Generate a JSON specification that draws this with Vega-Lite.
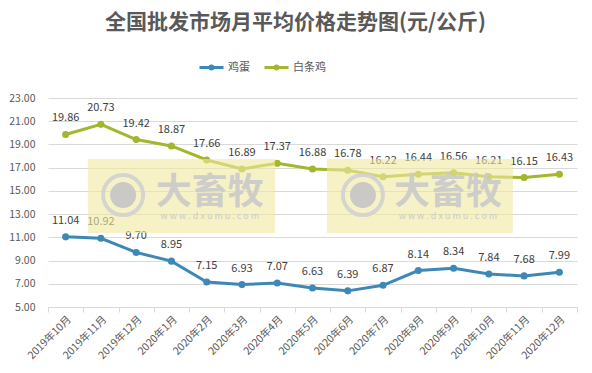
{
  "$schema": "https://vega.github.io/schema/vega-lite/v6.json",
  "width": 529,
  "height": 209,
  "autosize": {"type": "none"},
  "padding": {"left": 48, "top": 98, "right": 15, "bottom": 66},
  "background": "white",
  "config": {"font": "Noto Sans CJK SC", "view": {"stroke": null}},
  "title": {"text": "全国批发市场月平均价格走势图(元/公斤)", "fontSize": 21, "fontWeight": "bold", "color": "#595959", "anchor": "middle", "offset": 21, "dx": -17},
  "datasets": {
    "prices": [
      {"month": "2019年10月", "series": "鸡蛋", "value": 11.04},
      {"month": "2019年11月", "series": "鸡蛋", "value": 10.92},
      {"month": "2019年12月", "series": "鸡蛋", "value": 9.70},
      {"month": "2020年1月", "series": "鸡蛋", "value": 8.95},
      {"month": "2020年2月", "series": "鸡蛋", "value": 7.15},
      {"month": "2020年3月", "series": "鸡蛋", "value": 6.93},
      {"month": "2020年4月", "series": "鸡蛋", "value": 7.07},
      {"month": "2020年5月", "series": "鸡蛋", "value": 6.63},
      {"month": "2020年6月", "series": "鸡蛋", "value": 6.39},
      {"month": "2020年7月", "series": "鸡蛋", "value": 6.87},
      {"month": "2020年8月", "series": "鸡蛋", "value": 8.14},
      {"month": "2020年9月", "series": "鸡蛋", "value": 8.34},
      {"month": "2020年10月", "series": "鸡蛋", "value": 7.84},
      {"month": "2020年11月", "series": "鸡蛋", "value": 7.68},
      {"month": "2020年12月", "series": "鸡蛋", "value": 7.99},
      {"month": "2019年10月", "series": "白条鸡", "value": 19.86},
      {"month": "2019年11月", "series": "白条鸡", "value": 20.73},
      {"month": "2019年12月", "series": "白条鸡", "value": 19.42},
      {"month": "2020年1月", "series": "白条鸡", "value": 18.87},
      {"month": "2020年2月", "series": "白条鸡", "value": 17.66},
      {"month": "2020年3月", "series": "白条鸡", "value": 16.89},
      {"month": "2020年4月", "series": "白条鸡", "value": 17.37},
      {"month": "2020年5月", "series": "白条鸡", "value": 16.88},
      {"month": "2020年6月", "series": "白条鸡", "value": 16.78},
      {"month": "2020年7月", "series": "白条鸡", "value": 16.22},
      {"month": "2020年8月", "series": "白条鸡", "value": 16.44},
      {"month": "2020年9月", "series": "白条鸡", "value": 16.56},
      {"month": "2020年10月", "series": "白条鸡", "value": 16.21},
      {"month": "2020年11月", "series": "白条鸡", "value": 16.15},
      {"month": "2020年12月", "series": "白条鸡", "value": 16.43}
    ],
    "wm": [
      {"x0": 1.13, "x1": 6.44, "y0": 11.37, "y1": 17.75, "cx": 2.13, "cy": 14.64, "tx": 4.59, "ty": 14.82, "uy": 12.84, "label": "大畜牧", "url": "w w w . d x u m u . c o m"},
      {"x0": 7.91, "x1": 13.18, "y0": 11.37, "y1": 17.75, "cx": 8.93, "cy": 14.64, "tx": 11.34, "ty": 14.82, "uy": 12.84, "label": "大畜牧", "url": "w w w . d x u m u . c o m"}
    ]
  },
  "layer": [
    {
      "data": {"name": "prices"},
      "layer": [
        {
          "mark": {"type": "line", "strokeWidth": 3, "point": {"filled": true, "size": 50}},
          "encoding": {
            "x": {"field": "month", "type": "nominal", "sort": null, "axis": {"title": null, "labelAngle": -45, "labelFontSize": 10.5, "labelColor": "#595959", "tickBand": "extent", "domainColor": "#d9d9d9", "tickColor": "#d9d9d9", "grid": false, "tickSize": 5, "labelPadding": 2}},
            "y": {"field": "value", "type": "quantitative", "scale": {"domain": [5, 23], "nice": false}, "axis": {"title": null, "values": [5, 7, 9, 11, 13, 15, 17, 19, 21, 23], "tickCount": 10, "format": ".2f", "labelFontSize": 10.5, "labelColor": "#595959", "labelOverlap": false, "domain": false, "ticks": false, "gridColor": "#d9d9d9", "labelPadding": 13}},
            "color": {"field": "series", "type": "nominal", "scale": {"domain": ["鸡蛋", "白条鸡"], "range": ["#3d88b6", "#a3b62c"]}, "legend": {"orient": "none", "legendX": 150, "legendY": -44, "direction": "horizontal", "title": null, "labelFontSize": 11, "labelColor": "#595959", "symbolType": "M-1,0L1,0M-0.12,0A0.12,0.12 0 1,1 0.12,0A0.12,0.12 0 1,1 -0.12,0", "symbolSize": 576, "symbolStrokeWidth": 3, "columnPadding": 8, "labelOffset": 3}}
          }
        },
        {
          "mark": {"type": "text", "dy": -16, "fontSize": 11, "color": "#404040"},
          "encoding": {
            "x": {"field": "month", "type": "nominal", "sort": null},
            "y": {"field": "value", "type": "quantitative"},
            "text": {"field": "value", "type": "quantitative", "format": ".2f"}
          }
        }
      ]
    },
    {
      "data": {"name": "wm"},
      "layer": [
        {
          "mark": {"type": "rect", "fill": "#f2e9a0", "opacity": 0.6},
          "encoding": {
            "x": {"field": "x0", "type": "quantitative", "scale": {"domain": [0, 15]}, "axis": null},
            "x2": {"field": "x1"},
            "y": {"field": "y0", "type": "quantitative"},
            "y2": {"field": "y1"}
          }
        },
        {
          "mark": {"type": "point", "shape": "circle", "filled": false, "size": 1600, "stroke": "#d2d2d2", "strokeWidth": 4, "opacity": 0.9},
          "encoding": {
            "x": {"field": "cx", "type": "quantitative", "scale": {"domain": [0, 15]}, "axis": null},
            "y": {"field": "cy", "type": "quantitative"}
          }
        },
        {
          "mark": {"type": "point", "shape": "circle", "filled": true, "size": 676, "color": "#c4c4c4", "opacity": 0.9},
          "encoding": {
            "x": {"field": "cx", "type": "quantitative", "scale": {"domain": [0, 15]}, "axis": null},
            "y": {"field": "cy", "type": "quantitative"}
          }
        },
        {
          "mark": {"type": "text", "fontSize": 36, "fontWeight": "bold", "color": "#cacaca", "opacity": 0.9},
          "encoding": {
            "x": {"field": "tx", "type": "quantitative", "scale": {"domain": [0, 15]}, "axis": null},
            "y": {"field": "ty", "type": "quantitative"},
            "text": {"field": "label"}
          }
        },
        {
          "mark": {"type": "text", "fontSize": 9, "color": "#cacaca"},
          "encoding": {
            "x": {"field": "tx", "type": "quantitative", "scale": {"domain": [0, 15]}, "axis": null},
            "y": {"field": "uy", "type": "quantitative"},
            "text": {"field": "url"}
          }
        }
      ]
    }
  ],
  "resolve": {"scale": {"x": "independent"}}
}
